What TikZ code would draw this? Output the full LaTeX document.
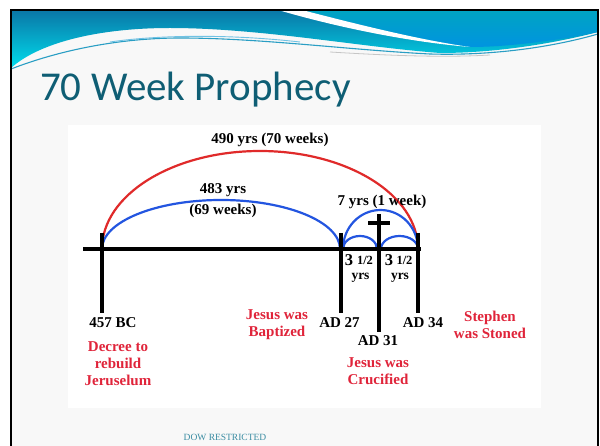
\documentclass[tikz,border=0pt]{standalone}
\usepackage{fontspec}
\newfontfamily\titlefont{Carlito}
\newfontfamily\labfont{Liberation Serif}
\definecolor{slidebg}{HTML}{F8F8F8}
\definecolor{hdtop}{HTML}{0A76A6}
\definecolor{hdbot}{HTML}{00DCEC}
\definecolor{hdrtop}{HTML}{00A4C2}
\definecolor{hdrbot}{HTML}{0094E0}
\definecolor{titlecol}{HTML}{0F5E74}
\definecolor{labred}{HTML}{E0243A}
\definecolor{arcred}{HTML}{E02A2A}
\definecolor{arcblue}{HTML}{2355E0}
\definecolor{dowcol}{HTML}{3A8CA2}
\definecolor{thinblue}{HTML}{2A9EC4}
\definecolor{thinlight}{HTML}{70C2E4}
\tikzset{
  lbl/.style={font=\labfont\bfseries\fontsize{15}{17}\selectfont, inner sep=0pt, align=center},
  redlbl/.style={lbl, text=labred},
  tickline/.style={line width=3.6pt, line cap=butt},
  redarc/.style={draw=arcred, line width=2.2pt},
  bluearc/.style={draw=arcblue, line width=2.2pt},
  bigthree/.style={lbl, font=\labfont\bfseries\fontsize{16.5}{17}\selectfont},
  half/.style={lbl, font=\labfont\bfseries\fontsize{12.5}{13}\selectfont},
  yrslbl/.style={lbl, font=\labfont\bfseries\fontsize{13.5}{14}\selectfont},
}
\begin{document}
\begin{tikzpicture}[x=1pt,y=-1pt]
\useasboundingbox (0,0) rectangle (600,446);
\fill[white] (0,0) rectangle (600,446);
\fill[slidebg] (11,10) rectangle (598,446);
% header band
\shade[top color=hdtop, bottom color=hdbot]
  (11,10) -- (598,10) -- (598,32)
  .. controls (560,42) and (500,53) .. (440,53)
  .. controls (360,47) and (260,28) .. (170,28)
  .. controls (100,28) and (40,42) .. (11,68) -- cycle;
\shade[top color=hdrtop, bottom color=hdrbot]
  (302,10) -- (598,10) -- (598,32)
  .. controls (560,40) and (510,47) .. (470,47)
  .. controls (420,40) and (360,25) .. (302,10) -- cycle;
\fill[white] (278,10) -- (302,10)
  .. controls (360,25) and (420,40) .. (470,47)
  .. controls (410,42) and (340,28) .. (278,10) -- cycle;
\draw[gray!45, line width=0.8pt] (330,52) .. controls (380,55) and (440,58) .. (490,55);
\draw[thinblue, line width=1.1pt] (11,69) .. controls (60,50) and (120,38) .. (180,38)
  .. controls (260,38) and (350,50) .. (430,54)
  .. controls (500,56) and (560,45) .. (598,34);
\draw[thinlight, line width=0.9pt] (110,42) .. controls (150,36) and (220,33) .. (300,42);
% frame
\draw[black, line width=2pt] (11,446) -- (11,10) -- (598,10) -- (598,446);
% title
\node[anchor=base west, inner sep=0pt, text=titlecol, font=\titlefont\fontsize{41}{44}\selectfont] (title) at (40,101) {70 Week Prophecy};
% picture area
\fill[white] (68,125) rectangle (541,408);
% timeline coordinates
\coordinate (L) at (83,249);
\coordinate (R) at (421,249);
\coordinate (bc) at (102,249);
\coordinate (a27) at (341,249);
\coordinate (a31) at (379,249);
\coordinate (a34) at (418,249);
% arcs
\draw[redarc] (bc) arc[start angle=180, end angle=0, x radius=158pt, y radius=98pt];
\draw[bluearc] (bc) arc[start angle=180, end angle=0, x radius=119pt, y radius=49pt];
\draw[bluearc] ([xshift=2pt]a27) arc[start angle=180, end angle=0, x radius=37.5pt, y radius=39pt];
\draw[bluearc] ([xshift=2pt]a27) arc[start angle=180, end angle=0, x radius=17pt, y radius=13pt];
\draw[bluearc] ([xshift=2pt]a31) arc[start angle=180, end angle=0, x radius=18.5pt, y radius=13pt];
% main line and ticks
\draw[line width=4.2pt] (L) -- (R);
\draw[tickline] (bc |- 0,233) -- (bc |- 0,313);
\draw[tickline] (a27 |- 0,233) -- (a27 |- 0,313);
\draw[tickline] (a34 |- 0,233) -- (a34 |- 0,313);
\draw[tickline] (a31 |- 0,214) -- (a31 |- 0,332);
\draw[line width=4pt] (368,223) -- (390,223);
% labels on arcs
\node[lbl] (t490) at (270,140) {490 yrs (70 weeks)};
\node[lbl] (t483) at (223,190) {483 yrs};
\node[lbl] (t69) at (223,211) {(69 weeks)};
\node[lbl] (t7) at (382,202) {7 yrs (1 week)};
% half weeks
\node[bigthree] (h1a) at (349,260) {3};
\node[half] (h1b) at (365,260) {1/2};
\node[yrslbl] (h1c) at (360.5,277.5) {yrs};
\node[bigthree] (h2a) at (389,260) {3};
\node[half] (h2b) at (404.5,260) {1/2};
\node[yrslbl] (h2c) at (400,277.5) {yrs};
% dates
\node[lbl] (d457) at (113,323) {457 BC};
\node[lbl] (d27) at (339.5,323) {AD 27};
\node[lbl] (d31) at (378,341) {AD 31};
\node[lbl] (d34) at (423,323) {AD 34};
% events
\node[redlbl] (e1) at (118,363.5) {Decree to\\rebuild\\Jeruselum};
\node[redlbl] (e2) at (277,324.5) {Jesus was\\Baptized};
\node[redlbl] (e3) at (378,371.5) {Jesus was\\Crucified};
\node[redlbl] (e4) at (490,324.5) {Stephen\\was Stoned};
% footer
\node[inner sep=0pt, text=dowcol, font=\labfont\fontsize{9.5}{10}\selectfont] (dow) at (225,437) {DOW RESTRICTED};
\end{tikzpicture}
\end{document}
